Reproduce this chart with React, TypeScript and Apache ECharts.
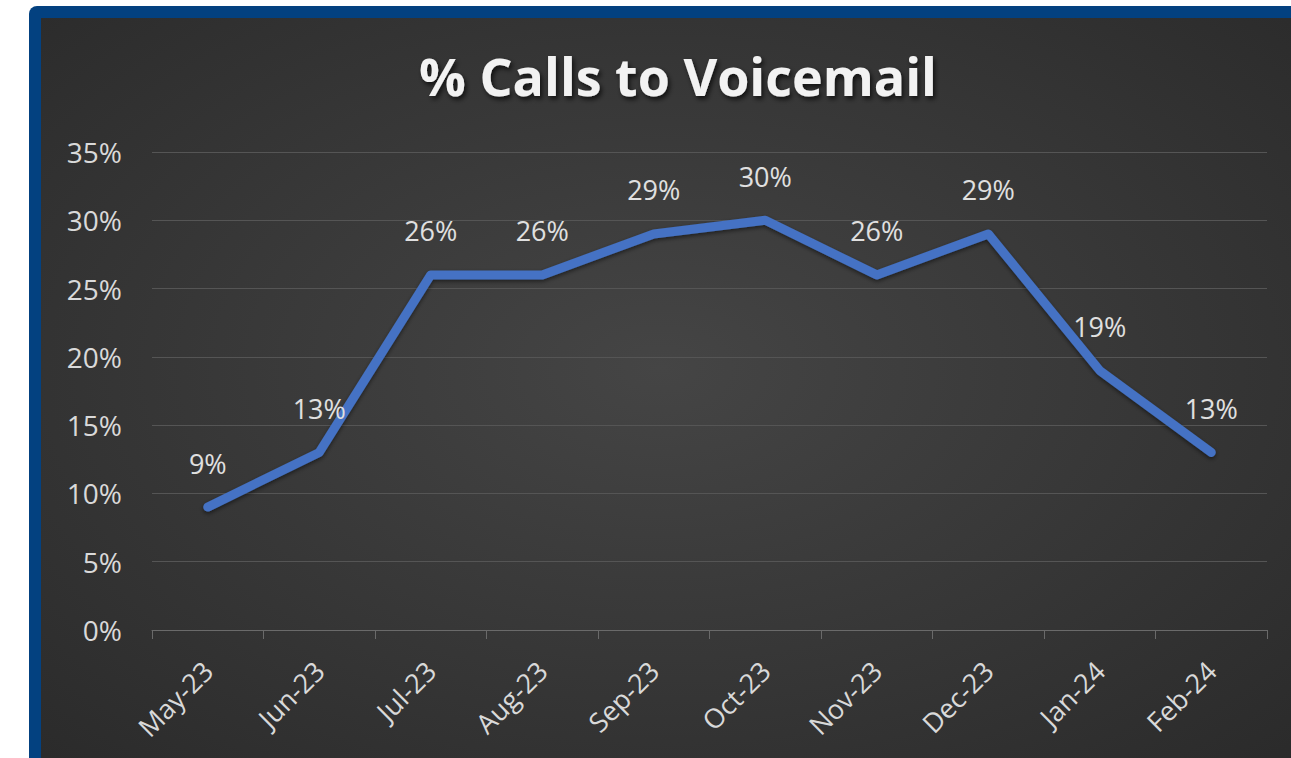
import React, { useEffect, useRef } from "react";
import * as echarts from "echarts";

const months = ["May-23", "Jun-23", "Jul-23", "Aug-23", "Sep-23", "Oct-23", "Nov-23", "Dec-23", "Jan-24", "Feb-24"];
const voicemailPct = [9, 13, 26, 26, 29, 30, 26, 29, 19, 13];
const yTicks = [0, 5, 10, 15, 20, 25, 30, 35];

export default function App() {
  const ref = useRef<HTMLDivElement>(null);
  useEffect(() => {
    document.body.style.margin = "0";
    const chart = echarts.init(ref.current!, null, { renderer: "svg" });
    chart.setOption({
      animation: false,
      backgroundColor: "#ffffff",
      graphic: [
        {
          type: "rect",
          z: -10,
          shape: { x: 29, y: 6, width: 1300, height: 800, r: [8, 0, 0, 0] },
          style: { fill: "#034180" },
          silent: true,
        },
        {
          type: "rect",
          z: -9,
          shape: { x: 41, y: 18, width: 1290, height: 780 },
          style: {
            fill: {
              type: "radial",
              x: 0.48,
              y: 0.45,
              r: 0.9,
              colorStops: [
                { offset: 0, color: "#454545" },
                { offset: 1, color: "#232323" },
              ],
            },
          },
          silent: true,
        },
      ],
      title: {
        text: "% Calls to Voicemail",
        left: 673,
        textAlign: "center",
        top: 44,
        textStyle: {
          color: "#f2f2f2",
          fontSize: 52,
          fontWeight: "bold",
          fontFamily: "Open Sans",
          textShadowColor: "rgba(0,0,0,0.7)",
          textShadowBlur: 5,
          textShadowOffsetX: 2,
          textShadowOffsetY: 3,
        },
      },
      grid: { left: 152, right: 24, top: 152, bottom: 758 - 630 },
      xAxis: {
        type: "category",
        data: months,
        boundaryGap: true,
        axisLine: { lineStyle: { color: "#6a6a6a", width: 1 } },
        axisTick: { show: true, length: 9, lineStyle: { color: "#6a6a6a" } },
        axisLabel: {
          rotate: 45,
          margin: 36,
          color: "#d9d9d9",
          fontSize: 27,
          fontFamily: "Open Sans",
          interval: 0,
        },
      },
      yAxis: {
        type: "value",
        min: 0,
        max: 35,
        interval: 5,
        axisLine: { show: false },
        axisTick: { show: false },
        splitLine: { lineStyle: { color: "#555555", width: 1 } },
        axisLabel: {
          formatter: (v: number) => (yTicks.includes(v) ? v + "%" : ""),
          margin: 30,
          color: "#d9d9d9",
          fontSize: 28,
          fontFamily: "Open Sans",
        },
      },
      series: [
        {
          type: "line",
          data: voicemailPct,
          symbol: "circle",
          symbolSize: 1,
          showSymbol: true,
          itemStyle: { color: "rgba(0,0,0,0)" },
          lineStyle: {
            color: "#4472c4",
            width: 9,
            cap: "round",
            join: "round",
            shadowColor: "rgba(0,0,0,0.5)",
            shadowBlur: 4,
            shadowOffsetY: 2,
          },
          label: {
            show: true,
            position: "top",
            distance: 30,
            formatter: (p: any) => p.value + "%",
            color: "#e0e0e0",
            fontSize: 27,
            fontFamily: "Open Sans",
          },
          labelLayout: { hideOverlap: false },
        },
      ],
    });
    return () => chart.dispose();
  }, []);
  return <div ref={ref} style={{ position: "fixed", left: 0, top: 0, width: 1291, height: 758 }} />;
}
